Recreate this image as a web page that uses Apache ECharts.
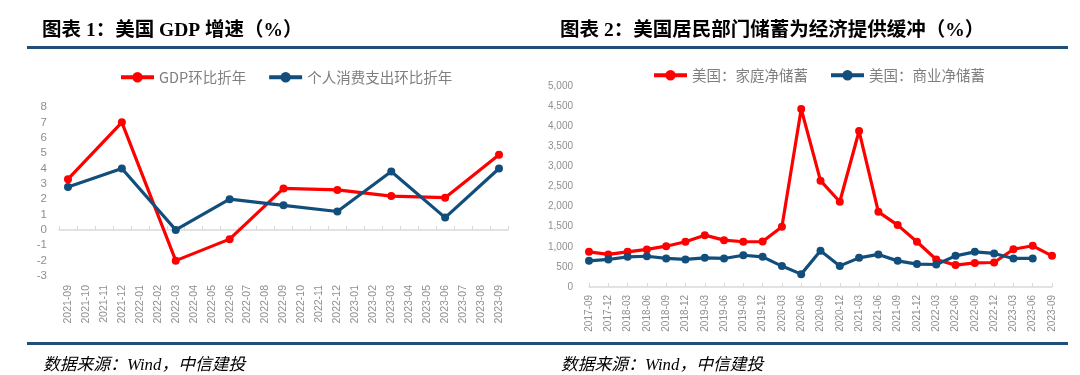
<!DOCTYPE html>
<html>
	<head>
		<meta charset="UTF-8">
		<title></title>
		<script src="https://cdn.jsdelivr.net/npm/echarts@6/dist/echarts.min.js"></script>
		<style type="text/css">
			html, body{
				margin: 0;
				padding: 0;
				background: #fff;
			}
			#chart{
				width: 1080px;
				height: 375px;
			}
		</style>
	</head>
	<body>
		<div id="chart"></div>
		<script>
		// 图表1：月度轴，季度数据
		var months = ['2021-09','2021-10','2021-11','2021-12','2022-01','2022-02','2022-03','2022-04','2022-05',
			'2022-06','2022-07','2022-08','2022-09','2022-10','2022-11','2022-12','2023-01','2023-02','2023-03',
			'2023-04','2023-05','2023-06','2023-07','2023-08','2023-09'];
		var gdpQoq = [3.3, null, null, 7.0, null, null, -2.0, null, null, -0.6, null, null, 2.7, null, null,
			2.6, null, null, 2.2, null, null, 2.1, null, null, 4.9];
		var pceQoq = [2.8, null, null, 4.0, null, null, 0.0, null, null, 2.0, null, null, 1.6, null, null,
			1.2, null, null, 3.8, null, null, 0.8, null, null, 4.0];

		// 图表2：季度
		var quarters = ['2017-09','2017-12','2018-03','2018-06','2018-09','2018-12','2019-03','2019-06','2019-09',
			'2019-12','2020-03','2020-06','2020-09','2020-12','2021-03','2021-06','2021-09','2021-12','2022-03',
			'2022-06','2022-09','2022-12','2023-03','2023-06','2023-09'];
		var householdSaving = [875, 810, 875, 935, 1015, 1125, 1290, 1165, 1125, 1130, 1500, 4430, 2645, 2120,
			3880, 1870, 1540, 1125, 685, 545, 600, 610, 940, 1025, 775];
		var businessSaving = [650, 685, 750, 765, 710, 685, 725, 710, 790, 750, 520, 320, 900, 525, 725, 810,
			650, 570, 560, 775, 875, 835, 710, 710, null];

		var red = '#ff0000';
		var blue = '#114e7c';
		var grey = '#8f8f8f';
		var ruleColor = '#1f4e79';
		var titleFont = "'Liberation Serif', 'Noto Sans CJK SC', serif";
		var cjkFont = "'Noto Sans CJK SC', sans-serif";
		var numFont = "'Liberation Sans', Arial, sans-serif";

		function lineSeries(name, data, color, xi){
			return {
				name: name,
				type: 'line',
				xAxisIndex: xi,
				yAxisIndex: xi,
				data: data,
				connectNulls: true,
				symbol: 'circle',
				symbolSize: 8,
				color: color,
				lineStyle: {width: 3.2, color: color},
				itemStyle: {color: color},
				z: color === blue ? 3 : 2
			};
		}

		function legendOf(names, left, top){
			return {
				data: names,
				left: left, top: top,
				itemWidth: 33, itemHeight: 13, itemGap: 21, itemTextGap: 3,
				lineStyle: {width: 4},
				textStyle: {fontFamily: cjkFont, fontSize: 14.5, color: '#7f7f7f'}
			};
		}

		var myChart = echarts.init(document.getElementById('chart'));
		var option = {
			animation: false,
			title: [
				{
					text: '图表 1：美国 GDP 增速（%）',
					left: 37, top: 16,
					textStyle: {fontFamily: titleFont, fontWeight: 'bold', fontSize: 19.5, color: '#000'}
				},
				{
					text: '图表 2：美国居民部门储蓄为经济提供缓冲（%）',
					left: 555, top: 16,
					textStyle: {fontFamily: titleFont, fontWeight: 'bold', fontSize: 19.5, color: '#000'}
				},
				{
					text: '数据来源：Wind，中信建投',
					left: 38, top: 352,
					textStyle: {fontFamily: titleFont, fontStyle: 'italic', fontWeight: 'normal', fontSize: 16.8, color: '#000'}
				},
				{
					text: '数据来源：Wind，中信建投',
					left: 556, top: 352,
					textStyle: {fontFamily: titleFont, fontStyle: 'italic', fontWeight: 'normal', fontSize: 16.8, color: '#000'}
				}
			],
			graphic: [
				{type: 'rect', shape: {x: 27, y: 46, width: 1041, height: 3}, style: {fill: ruleColor}},
				{type: 'rect', shape: {x: 27, y: 342, width: 1041, height: 3}, style: {fill: ruleColor}}
			],
			legend: [
				legendOf(['GDP环比折年', '个人消费支出环比折年'], 114, 65),
				legendOf(['美国：家庭净储蓄', '美国：商业净储蓄'], 647, 63)
			],
			grid: [
				{left: 59, width: 449, top: 107, height: 169},
				{left: 589, width: 463, top: 86, height: 201}
			],
			xAxis: [
				{
					type: 'category',
					gridIndex: 0,
					data: months,
					boundaryGap: true,
					axisLine: {onZero: true, lineStyle: {color: '#d9d9d9', width: 1.5}},
					axisTick: {show: true, inside: true, length: 4, lineStyle: {color: '#d9d9d9'}},
					axisLabel: {rotate: 90, interval: 0, margin: 9, fontFamily: numFont, fontSize: 10.5, color: grey}
				},
				{
					type: 'category',
					gridIndex: 1,
					data: quarters,
					boundaryGap: false,
					axisLine: {lineStyle: {color: '#d9d9d9', width: 1.5}},
					axisTick: {show: true, inside: true, length: 4, lineStyle: {color: '#d9d9d9'}},
					axisLabel: {rotate: 90, interval: 0, margin: 8, fontFamily: numFont, fontSize: 10, color: grey}
				}
			],
			yAxis: [
				{
					type: 'value',
					gridIndex: 0,
					min: -3, max: 8, interval: 1,
					axisLine: {show: false},
					axisTick: {show: false},
					splitLine: {show: false},
					axisLabel: {margin: 12, fontFamily: numFont, fontSize: 11.5, color: grey}
				},
				{
					type: 'value',
					gridIndex: 1,
					min: 0, max: 5000, interval: 500,
					axisLine: {show: false},
					axisTick: {show: false},
					splitLine: {show: false},
					axisLabel: {
						margin: 16, fontFamily: numFont, fontSize: 10, color: grey,
						formatter: function (v){ return v.toLocaleString('en-US'); }
					}
				}
			],
			series: [
				lineSeries('GDP环比折年', gdpQoq, red, 0),
				lineSeries('个人消费支出环比折年', pceQoq, blue, 0),
				lineSeries('美国：家庭净储蓄', householdSaving, red, 1),
				lineSeries('美国：商业净储蓄', businessSaving, blue, 1)
			]
		};
		myChart.setOption(option);
		</script>
	</body>
</html>
